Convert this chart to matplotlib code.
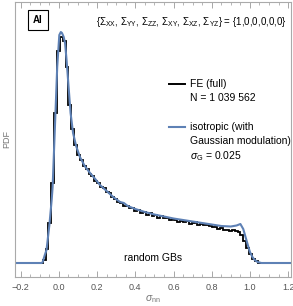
import numpy as np
import matplotlib
matplotlib.use("Agg")
import matplotlib.pyplot as plt

plt.rcParams['font.family'] = ['Liberation Sans', 'DejaVu Sans']
plt.rcParams['mathtext.fontset'] = 'custom'
plt.rcParams['mathtext.rm'] = 'Liberation Sans'
plt.rcParams['mathtext.it'] = 'Liberation Sans:italic'

# height scale: pixel heights, divided by this -> PDF
px_per_pdf = 69.0

# isotropic model with Gaussian modulation (smooth curve)
iso_x = [-0.23, -0.09, -0.085, -0.074, -0.065, -0.05, -0.038, -0.033, -0.021, -0.009,
         0.002, 0.01, 0.016, 0.025, 0.032, 0.04, 0.049, 0.061, 0.074, 0.09,
         0.11, 0.135, 0.163, 0.19, 0.215, 0.25, 0.284, 0.32, 0.34, 0.36,
         0.4, 0.45, 0.5, 0.55, 0.6, 0.65, 0.7, 0.75, 0.8, 0.85,
         0.9, 0.93, 0.95, 0.965, 0.977, 0.992, 1.0, 1.013, 1.025, 1.04,
         1.06, 1.215]
iso_h = [0, 0, 1, 8, 13, 38, 63, 76, 136, 196,
         228, 231, 230, 226, 220, 203, 180, 150, 130, 117,
         106, 97, 90, 84, 78, 72, 66, 61, 60, 57,
         54, 51, 48.5, 46.5, 44.5, 43, 41.5, 40, 38.5, 37,
         36.5, 37.5, 39, 34, 26, 16, 11, 6, 3, 1,
         0, 0]

# FE (full) histogram, bin width 0.015 starting at -0.1
fe_h = [0.5, 3, 14, 40, 80, 150, 212, 226, 222, 196,
        158, 134, 118, 108, 103, 97, 94, 89, 87, 82,
        80, 76, 75, 71, 70, 66, 64, 61, 60, 57,
        57, 55, 55, 52, 53, 50, 51, 48, 50, 47,
        48, 45, 47, 45, 45, 43, 44, 43, 41, 42,
        41, 42, 39, 40, 41, 38, 39, 38, 38, 37,
        36, 36, 34, 35, 33, 33, 32, 33, 32, 31,
        28, 22, 15, 9, 4, 2, 0.5, 0, 0, 0]

fe_edges = -0.1 + 0.015 * np.arange(len(fe_h) + 1)
fe_pdf = np.array(fe_h) / px_per_pdf
iso_pdf = np.array(iso_h) / px_per_pdf

fig = plt.figure(figsize=(2.93, 3.06), dpi=100)
ax = fig.add_axes([15 / 293, 1 - 277 / 306, 276 / 293, 275 / 306])

blue = '#5E81B5'
ax.plot([-0.23, fe_edges[0]], [0, 0], color='black', lw=1.2)
ax.stairs(fe_pdf, fe_edges, color='black', lw=1.3)
ax.plot([fe_edges[-1], 1.215], [0, 0], color='black', lw=1.2)
ax.plot(iso_x, iso_pdf, color=blue, lw=1.5)

ax.set_xlim(-0.23, 1.215)
ax.set_ylim(-14 / px_per_pdf, 261 / px_per_pdf)
ax.set_xticks([-0.2, 0.0, 0.2, 0.4, 0.6, 0.8, 1.0, 1.2])
ax.set_xticks(np.arange(-0.2, 1.21, 0.05), minor=True)
ax.set_yticks([])
ax.tick_params(axis='x', which='both', direction='in', top=True, color='#999999',
               labelsize=6.5, labelcolor='#555555', pad=4)
ax.tick_params(axis='x', which='major', length=4, width=0.6)
ax.tick_params(axis='x', which='minor', length=2, width=0.5)
for s in ax.spines.values():
    s.set_color('#aaaaaa')
    s.set_linewidth(0.8)

ax.set_xlabel(r'$\sigma_{\mathrm{nn}}$', fontsize=7.5, color='#777777', labelpad=1.5)
ax.set_ylabel('PDF', fontsize=6.5, color='#777777', labelpad=3)

ax.text(0.083, 0.935, 'Al', transform=ax.transAxes, ha='center', va='center',
        fontsize=7, fontweight='bold',
        bbox=dict(boxstyle='square,pad=0.55', fc='white', ec='black', lw=0.8))
ax.text(0.986, 0.927,
        r'{$\Sigma_{\mathrm{XX}}$, $\Sigma_{\mathrm{YY}}$, $\Sigma_{\mathrm{ZZ}}$, '
        r'$\Sigma_{\mathrm{XY}}$, $\Sigma_{\mathrm{XZ}}$, $\Sigma_{\mathrm{YZ}}$} = {1,0,0,0,0,0}',
        transform=ax.transAxes, ha='right', va='center', fontsize=7)

# legend
def fy(py):
    return (277 - py) / 275

ax.plot([0.558, 0.616], [fy(84), fy(84)], color='black', lw=1.4, transform=ax.transAxes)
ax.plot([0.558, 0.616], [fy(127), fy(127)], color=blue, lw=1.5, transform=ax.transAxes)
tx = 0.634
lfs = 7.5
ax.text(tx, fy(84), 'FE (full)', transform=ax.transAxes, va='center', fontsize=lfs)
ax.text(tx, fy(98), 'N = 1 039 562', transform=ax.transAxes, va='center', fontsize=lfs)
ax.text(tx, fy(127), 'isotropic (with', transform=ax.transAxes, va='center', fontsize=lfs)
ax.text(tx, fy(141), 'Gaussian modulation)', transform=ax.transAxes, va='center', fontsize=lfs)
ax.text(tx, fy(156), r'$\sigma_{\mathrm{G}}$ = 0.025', transform=ax.transAxes, va='center', fontsize=lfs)

ax.text(0.50, fy(258), 'random GBs', transform=ax.transAxes, ha='center', va='center', fontsize=7.5)

fig.savefig('out.png', dpi=100)
